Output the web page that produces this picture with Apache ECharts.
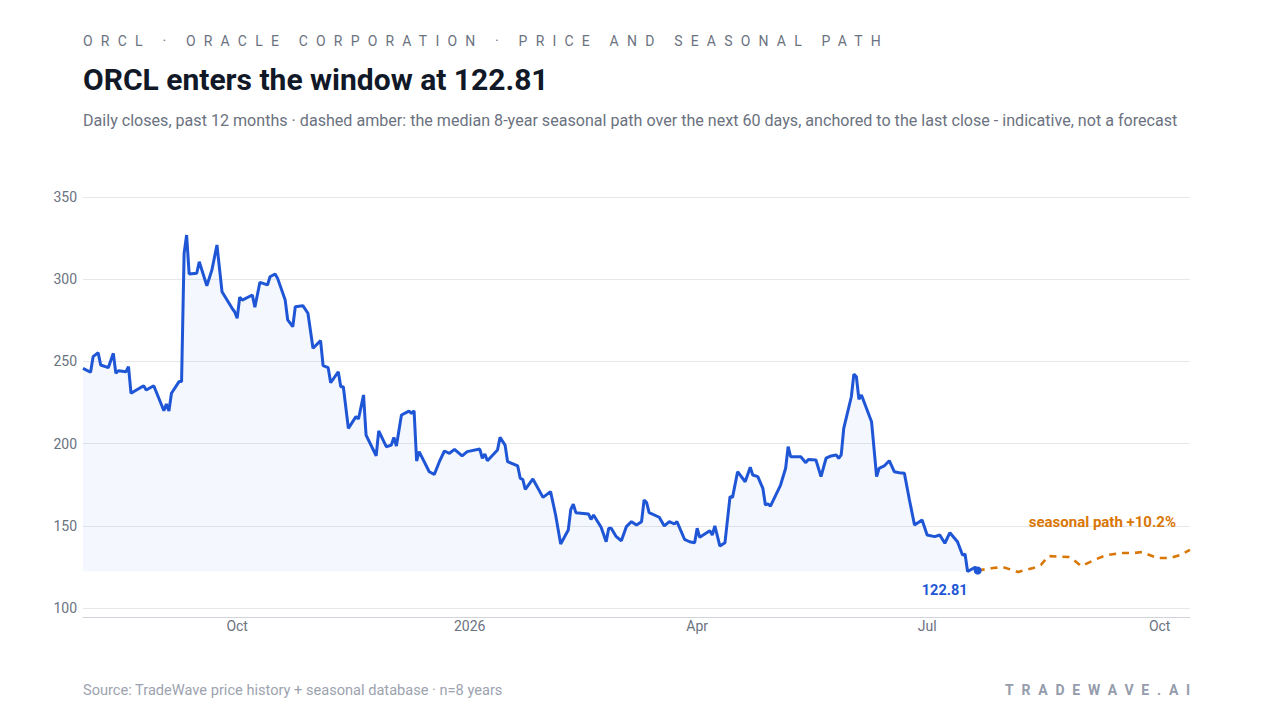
<!DOCTYPE html>
<html>
<head>
<meta charset="utf-8">
<script src="https://cdn.jsdelivr.net/npm/echarts@6/dist/echarts.min.js"></script>
<style>
html, body { margin:0; padding:0; background:#ffffff; width:1280px; height:720px; overflow:hidden; font-family: Roboto, "Noto Sans", "DejaVu Sans", sans-serif; }
#chart { position:absolute; left:0; top:0; width:1280px; height:720px; }
.t { position:absolute; white-space:nowrap; z-index:2; }
#kicker { left:83px; top:31px; font-size:14px; line-height:20px; letter-spacing:8.2px; color:#6b7280; }
#title { left:83px; top:62px; font-size:30px; line-height:36px; font-weight:700; color:#111827; }
#sub { left:83px; top:111px; font-size:16.1px; line-height:20px; color:#6b7280; }
#source { left:83px; top:680px; font-size:14.6px; line-height:20px; color:#9ca3af; }
#brand { right:82px; top:680px; font-size:14px; line-height:20px; letter-spacing:7.8px; font-weight:700; color:#959cab; }
</style>
</head>
<body>
<div id="chart"></div>
<div class="t" id="kicker">ORCL · ORACLE CORPORATION · PRICE AND SEASONAL PATH</div>
<div class="t" id="title">ORCL enters the window at 122.81</div>
<div class="t" id="sub">Daily closes, past 12 months · dashed amber: the median 8-year seasonal path over the next 60 days, anchored to the last close - indicative, not a forecast</div>
<div class="t" id="source">Source: TradeWave price history + seasonal database · n=8 years</div>
<div class="t" id="brand">TRADEWAVE.AI</div>
<script>
// ---- data ----
const priceDates = [
 '2025-08-01','2025-08-04','2025-08-05','2025-08-07','2025-08-08','2025-08-11','2025-08-13','2025-08-14','2025-08-15','2025-08-18',
 '2025-08-19','2025-08-20','2025-08-25','2025-08-26','2025-08-29','2025-09-02','2025-09-03','2025-09-04','2025-09-05','2025-09-08',
 '2025-09-09','2025-09-10','2025-09-11','2025-09-12','2025-09-15','2025-09-16','2025-09-19','2025-09-21','2025-09-23','2025-09-25',
 '2025-09-29','2025-09-30','2025-10-01','2025-10-02','2025-10-03','2025-10-07','2025-10-08','2025-10-10','2025-10-13','2025-10-14',
 '2025-10-16','2025-10-17','2025-10-20','2025-10-21','2025-10-23','2025-10-24','2025-10-27','2025-10-29','2025-10-31','2025-11-03',
 '2025-11-04','2025-11-06','2025-11-07','2025-11-10','2025-11-11','2025-11-12','2025-11-14','2025-11-17','2025-11-18','2025-11-20',
 '2025-11-21','2025-11-25','2025-11-26','2025-11-29','2025-12-01','2025-12-02','2025-12-03','2025-12-05','2025-12-07','2025-12-08',
 '2025-12-09','2025-12-10','2025-12-11','2025-12-12','2025-12-16','2025-12-18','2025-12-20','2025-12-22','2025-12-24','2025-12-26',
 '2025-12-29','2025-12-31','2026-01-05','2026-01-06','2026-01-07','2026-01-08','2026-01-12','2026-01-13','2026-01-15','2026-01-16',
 '2026-01-20','2026-01-21','2026-01-22','2026-01-23','2026-01-26','2026-01-30','2026-02-02','2026-02-04','2026-02-06','2026-02-09',
 '2026-02-10','2026-02-11','2026-02-12','2026-02-17','2026-02-18','2026-02-19','2026-02-22','2026-02-24','2026-02-25','2026-02-26',
 '2026-02-28','2026-03-02','2026-03-04','2026-03-06','2026-03-08','2026-03-10','2026-03-11','2026-03-12','2026-03-13','2026-03-17',
 '2026-03-19','2026-03-21','2026-03-23','2026-03-24','2026-03-27','2026-03-29','2026-03-31','2026-04-01','2026-04-02','2026-04-06',
 '2026-04-07','2026-04-08','2026-04-10','2026-04-12','2026-04-14','2026-04-15','2026-04-17','2026-04-20','2026-04-22','2026-04-23',
 '2026-04-25','2026-04-27','2026-04-28','2026-04-29','2026-04-30','2026-05-04','2026-05-06','2026-05-07','2026-05-08','2026-05-12',
 '2026-05-14','2026-05-15','2026-05-18','2026-05-20','2026-05-22','2026-05-24','2026-05-26','2026-05-27','2026-05-28','2026-05-29',
 '2026-06-01','2026-06-02','2026-06-03','2026-06-04','2026-06-05','2026-06-09','2026-06-11','2026-06-12','2026-06-14','2026-06-16',
 '2026-06-18','2026-06-20','2026-06-22','2026-06-24','2026-06-26','2026-06-29','2026-07-01','2026-07-04','2026-07-06','2026-07-08',
 '2026-07-10','2026-07-13','2026-07-15','2026-07-16','2026-07-17','2026-07-20','2026-07-21'
];
const priceCloses = [
 245.8,243.4,252.9,255.3,247.8,246.2,254.9,242.8,244.3,243.7,
 246.8,230.6,235.2,232.6,235.2,220.0,224.1,219.8,230.6,237.7,
 237.7,315.7,326.9,303.2,303.6,310.6,296.0,305.6,320.8,292.4,
 282.3,280.2,276.2,289.0,287.3,290.4,282.9,298.1,296.5,301.5,
 303.2,300.5,287.3,275.2,271.1,283.3,283.9,279.3,258.0,262.6,
 247.4,246.2,237.0,243.7,234.6,234.6,209.3,216.4,215.0,229.6,
 205.2,192.6,207.8,198.1,199.1,203.8,198.5,217.4,219.0,219.8,
 218.4,220.0,189.4,195.1,182.9,181.3,189.0,195.5,194.1,196.5,
 192.5,195.1,196.7,191.1,193.7,189.6,196.1,203.8,199.1,189.0,
 186.4,178.9,178.3,172.2,178.5,167.3,170.8,156.6,138.9,147.4,
 160.0,163.1,158.0,157.2,153.9,156.6,149.1,140.3,148.5,148.5,
 143.4,140.9,149.5,152.5,150.5,152.5,165.7,164.1,158.0,155.2,
 149.9,152.5,151.1,152.5,141.8,140.3,139.7,148.5,143.0,147.0,
 144.4,149.9,137.7,139.7,167.7,167.3,182.9,176.8,185.6,180.9,
 179.9,172.8,162.7,163.3,162.0,174.8,185.0,198.1,192.0,192.0,
 188.4,190.4,190.0,179.9,191.1,192.5,193.1,191.1,193.1,209.3,
 228.5,242.3,240.7,227.0,229.6,213.3,179.9,185.0,186.4,189.6,
 182.9,182.3,181.9,165.7,150.5,153.5,144.4,143.4,144.4,139.4,
 145.8,140.3,132.2,132.8,122.2,124.8,122.81
];
const seasonalDates = [
 '2026-07-21','2026-07-27','2026-07-31','2026-08-06','2026-08-12','2026-08-15','2026-08-18','2026-08-26','2026-08-28','2026-08-31',
 '2026-09-06','2026-09-10','2026-09-16','2026-09-21','2026-09-24','2026-09-30','2026-10-05','2026-10-09','2026-10-13'
];
const seasonalValues = [
 122.81,124.3,124.9,121.9,124.3,126.2,131.6,131.0,129.2,125.5,
 129.8,132.2,133.5,133.5,134.1,130.4,130.4,132.2,135.34
];
const yTicks = { min: 100, max: 350, step: 50 };
const xTickDates = ['2025-10-01','2026-01-01','2026-04-01','2026-07-01','2026-10-01'];
const xTickLabels = ['Oct','2026','Apr','Jul','Oct'];

// ---- helpers ----
function ts(s) { const p = s.split('-').map(Number); return Date.UTC(p[0], p[1]-1, p[2]); }
const BLUE = '#1f56d6';
const AMBER = '#d97706';
const xTickTimes = xTickDates.map(ts);
const priceData = priceDates.map((d, i) => [ts(d), priceCloses[i]]);
const seasonalData = seasonalDates.map((d, i) => [ts(d), seasonalValues[i]]);
const lastClose = priceCloses[priceCloses.length - 1];
const lastDate = priceDates[priceDates.length - 1];
const seasEnd = seasonalValues[seasonalValues.length - 1];
const seasPct = ((seasEnd / seasonalValues[0]) - 1) * 100;

const chart = echarts.init(document.getElementById('chart'), null, { renderer: 'svg' });
chart.setOption({
  animation: false,
  textStyle: { fontFamily: 'Roboto, "Noto Sans", sans-serif' },
  grid: { left: 83, right: 90, top: 197, bottom: 112 },
  xAxis: {
    type: 'value',
    min: ts(priceDates[0]),
    max: ts(seasonalDates[seasonalDates.length - 1]),
    offset: 9,
    axisLine: { show: true, lineStyle: { color: '#d1d5db', width: 1 } },
    axisTick: { show: false },
    splitLine: { show: false },
    axisLabel: {
      customValues: xTickTimes,
      color: '#6b7280', fontSize: 14, margin: 2,
      formatter: function (v) {
        for (let i = 0; i < xTickTimes.length; i++) {
          if (Math.abs(xTickTimes[i] - v) < 43200000) return xTickLabels[i];
        }
        return '';
      }
    }
  },
  yAxis: {
    type: 'value',
    min: yTicks.min, max: yTicks.max, interval: yTicks.step,
    axisLine: { show: false },
    axisTick: { show: false },
    axisLabel: { color: '#6b7280', fontSize: 14, margin: 6 },
    splitLine: { lineStyle: { color: '#e5e7eb', width: 1 } }
  },
  series: [
    {
      name: 'ORCL',
      type: 'line',
      data: priceData,
      showSymbol: false,
      lineStyle: { color: BLUE, width: 3 },
      itemStyle: { color: BLUE },
      areaStyle: { color: 'rgba(31,86,214,0.065)', origin: Math.min.apply(null, priceCloses) },
      z: 3,
      markPoint: {
        symbol: 'circle',
        symbolSize: 8,
        itemStyle: { color: BLUE },
        data: [{
          coord: [ts(lastDate), lastClose],
          value: lastClose,
          label: {
            show: true, position: 'bottom', distance: 5, offset: [-33, 3],
            formatter: lastClose.toFixed(2),
            color: BLUE, fontSize: 14.5, fontWeight: 'bold'
          }
        }]
      }
    },
    {
      name: 'Seasonal path',
      type: 'line',
      data: seasonalData,
      showSymbol: false,
      lineStyle: { color: AMBER, width: 2.6, type: [7, 6] },
      itemStyle: { color: AMBER },
      z: 2,
      markPoint: {
        symbol: 'circle',
        symbolSize: 0,
        data: [{
          coord: seasonalData[seasonalData.length - 1],
          value: seasEnd,
          label: {
            show: true, position: 'top', distance: 5, align: 'right', offset: [-14, -15],
            formatter: 'seasonal path +' + seasPct.toFixed(1) + '%',
            color: AMBER, fontSize: 15, fontWeight: 'bold'
          }
        }]
      }
    }
  ]
});
</script>
</body>
</html>
